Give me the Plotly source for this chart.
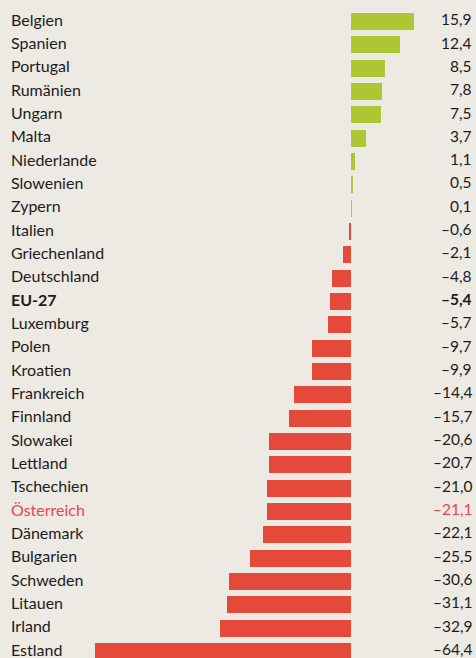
import plotly.graph_objects as go

countries = ["Belgien", "Spanien", "Portugal", "Rumänien", "Ungarn", "Malta", "Niederlande",
             "Slowenien", "Zypern", "Italien", "Griechenland", "Deutschland", "EU-27", "Luxemburg",
             "Polen", "Kroatien", "Frankreich", "Finnland", "Slowakei", "Lettland", "Tschechien",
             "Österreich", "Dänemark", "Bulgarien", "Schweden", "Litauen", "Irland", "Estland"]
values = [15.9, 12.4, 8.5, 7.8, 7.5, 3.7, 1.1, 0.5, 0.1, -0.6, -2.1, -4.8, -5.4, -5.7,
          -9.7, -9.9, -14.4, -15.7, -20.6, -20.7, -21.0, -21.1, -22.1, -25.5, -30.6, -31.1,
          -32.9, -64.4]

GREEN = "#acc732"
RED = "#e5493a"
HILITE = "#e8474f"
TEXT = "#1c1c1c"
BG = "#ede9e3"
FONT = "Lato"

pos = list(range(len(countries)))
colors = [GREEN if v >= 0 else RED for v in values]

fig = go.Figure(go.Bar(
    x=values, y=pos, orientation="h", marker=dict(color=colors, line=dict(width=0)),
    width=0.73, hoverinfo="skip"))

def fmt(v):
    s = f"{abs(v):.1f}".replace(".", ",")
    return ("–" + s) if v < 0 else s

annotations = []
for i, (c, v) in enumerate(zip(countries, values)):
    col = HILITE if c == "Österreich" else TEXT
    bold = c == "EU-27"
    lab = f"<b>{c}</b>" if bold else c
    val = f"<b>{fmt(v)}</b>" if bold else fmt(v)
    annotations.append(dict(x=9 / 476, xref="paper", y=i - 0.1, yref="y", text=lab,
                            showarrow=False, xanchor="left", yanchor="middle",
                            font=dict(family=FONT, size=16, color=col)))
    annotations.append(dict(x=474 / 476, xref="paper", y=i - 0.1, yref="y", text=val,
                            showarrow=False, xanchor="right", yanchor="middle",
                            font=dict(family=FONT, size=15.5, color=col)))

fig.update_layout(
    width=476, height=658, margin=dict(l=0, r=0, t=0, b=0),
    paper_bgcolor=BG, plot_bgcolor=BG, showlegend=False,
    xaxis=dict(range=[-88.2, 31.4], visible=False, fixedrange=True),
    yaxis=dict(range=[27.28, -0.9215], visible=False, fixedrange=True),
    annotations=annotations, bargap=0,
)
fig.write_html(
    "out.html",
    config={"displayModeBar": False},
    post_script="document.documentElement.style.margin='0';document.body.style.margin='0';"
                "document.body.style.padding='0';document.documentElement.style.overflow='hidden';"
                "document.body.style.overflow='hidden';document.body.style.background='#ede9e3';",
)
